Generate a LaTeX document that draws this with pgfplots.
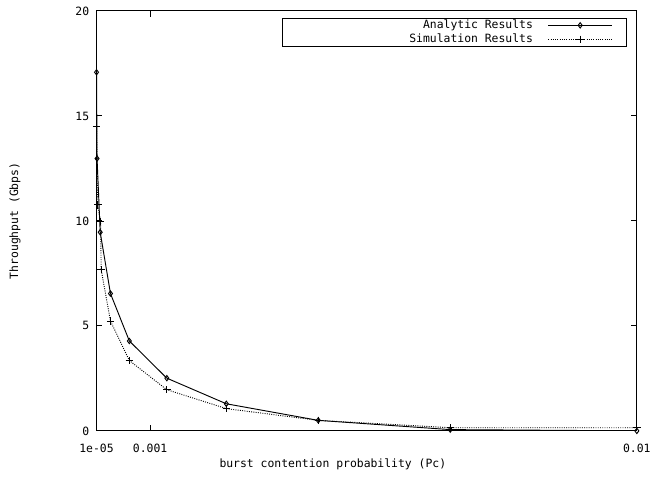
\documentclass[border=0pt]{standalone}
\usepackage{pgfplots}
\pgfplotsset{compat=1.18}
\usepackage{fontspec}
\setmainfont{DejaVu Sans Mono}
\begin{document}
\begin{tikzpicture}
\begin{axis}[
    scale only axis,
    width=407.25pt, height=316.5pt,
    xmin=0.00001, xmax=0.01,
    ymin=0, ymax=20,
    scaled ticks=false,
    xtick={0.00001,0.001,0.01},
    xticklabels={1e-05,0.001,0.01},
    ytick={0,5,10,15,20},
    yticklabels={0,5,10,15,20},
    tick align=inside,
    major tick length=4.5pt,
    tick style={black, line width=0.7pt},
    axis line style={line width=0.7pt},
    font=\fontsize{8.6}{10}\selectfont,
    ticklabel style={font=\fontsize{8.6}{10}\selectfont},
    /pgf/number format/assume math mode=true,
    xticklabel style={yshift=-6.5pt},
    yticklabel style={xshift=-2pt},
    xlabel={burst contention probability (Pc)},
    ylabel={Throughput (Gbps)},
    xlabel style={at={(axis description cs:0.4374,0)}, anchor=center, yshift=-25pt},
    ylabel style={at={(axis description cs:-0.151,0.5)}, anchor=center, rotate=0},
    legend style={at={(1,1)}, anchor=north east, xshift=-7.5pt, yshift=-5.25pt,
      draw=black, line width=0.7pt, inner xsep=0pt, inner ysep=1pt,
      row sep=2pt, column sep=11.25pt,
      font=\fontsize{8.6}{10}\selectfont,
      nodes={inner sep=0pt, text height=6.5pt, text depth=2pt}},
    legend plot pos=right,
    legend image code/.code={\draw[mark repeat=2,mark phase=2,#1] plot coordinates {(0pt,0pt) (24pt,0pt) (48pt,0pt)};
      \path (58.5pt,0pt);},
]
\addplot[black, line width=0.7pt, mark=diamond, mark size=2pt, mark options={solid}] coordinates {
(0.00001,17.08) (0.00002,12.97) (0.000078,9.46) (0.000268,6.54) (0.000617,4.28)
(0.00131,2.51) (0.00241,1.29) (0.00411,0.50) (0.00655,0.06) (0.01,0.0)};
\addlegendentry{\makebox[189pt][r]{Analytic Results}}
\addplot[black, line width=0.7pt, densely dotted, mark=+, mark size=2.8pt, mark options={solid}] coordinates {
(0.00001,14.5) (0.000034,10.76) (0.000084,9.97) (0.000096,7.68) (0.000268,5.23)
(0.000617,3.35) (0.00131,1.96) (0.00241,1.06) (0.00411,0.50) (0.00655,0.15) (0.01,0.15)};
\addlegendentry{\makebox[189pt][r]{Simulation Results}}
\end{axis}
\path (current axis.south west) ++(-72.75pt,-34.5pt);
\path (current axis.north east) ++(11.25pt,8.25pt);
\end{tikzpicture}
\end{document}
